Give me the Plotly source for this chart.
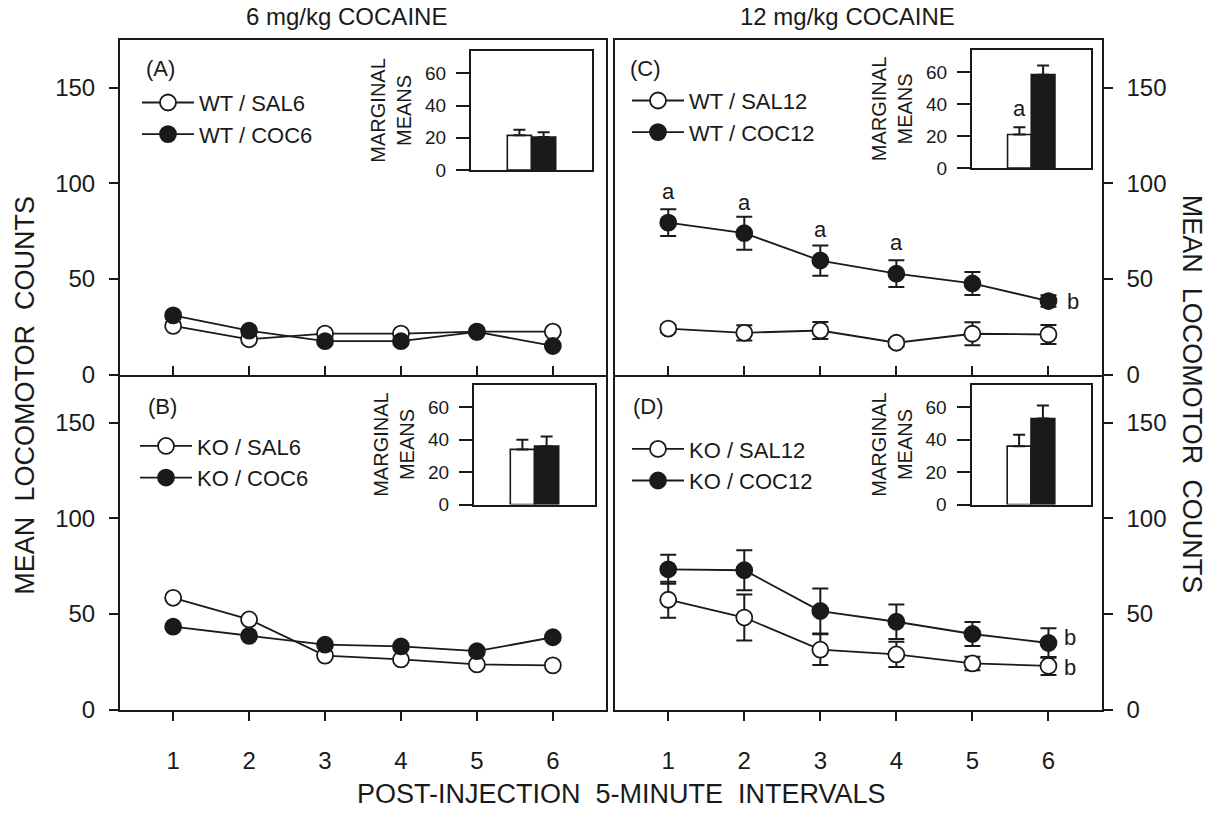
import plotly.graph_objects as go

W, H = 1216, 821
INK = "#1a1a1a"
FONT = "Liberation Sans, Arial, sans-serif"

# ---- data ---------------------------------------------------------------
intervals = [1, 2, 3, 4, 5, 6]
y_ticks = [0, 50, 100, 150]
inset_ticks = [0, 20, 40, 60]

# 6 mg/kg
wt_sal6 = [25.5, 18.5, 21.5, 21.5, 22.5, 22.5]
wt_coc6 = [31.0, 23.0, 17.5, 17.5, 22.4, 15.0]
ko_sal6 = [58.4, 47.1, 28.2, 26.2, 23.6, 23.1]
ko_coc6 = [43.3, 38.5, 33.9, 33.0, 30.5, 37.8]

# 12 mg/kg
wt_sal12 = [24.1, 21.9, 23.1, 16.7, 21.4, 21.0]
wt_sal12_err = [2.0, 4.0, 4.5, 2.0, 6.0, 5.0]
wt_coc12 = [79.5, 74.0, 59.7, 52.8, 47.7, 38.5]
wt_coc12_err = [7.0, 8.6, 7.9, 7.0, 6.0, 3.0]
ko_sal12 = [57.4, 48.1, 31.3, 28.8, 24.1, 22.8]
ko_sal12_err = [9.4, 12.0, 8.0, 6.6, 3.5, 4.7]
ko_coc12 = [73.3, 72.8, 51.5, 45.9, 39.5, 34.8]
ko_coc12_err = [7.6, 10.5, 11.8, 9.0, 6.3, 7.7]

# marginal means: [saline, cocaine]
marg_wt6, marg_wt6_err = [21.5, 20.5], [3.5, 3.0]
marg_ko6, marg_ko6_err = [34.0, 36.0], [6.0, 6.0]
marg_wt12, marg_wt12_err = [21.0, 58.5], [4.5, 5.7]
marg_ko12, marg_ko12_err = [36.0, 53.0], [7.0, 8.0]
bar_pos = [0.4, 0.6]

# ---- geometry helpers (pixels -> paper fractions) -------------------------
def px_x(a, b):
    return [a / W, b / W]


def px_y(top, bottom):
    return [1 - bottom / H, 1 - top / H]


fig = go.Figure()


def series(x_id, y_id, vals, filled, name, legend, err=None):
    tr = dict(
        x=intervals, y=vals, name=name, mode="lines+markers",
        xaxis=x_id, yaxis=y_id, legend=legend,
        line=dict(color=INK, width=1.8),
        marker=dict(size=16, color=INK if filled else "white",
                    line=dict(color=INK, width=1.8)),
    )
    if err is not None:
        tr["error_y"] = dict(type="data", array=err, color=INK,
                             thickness=2, width=8)
    fig.add_trace(go.Scatter(**tr))


def bars(x_id, y_id, vals, err):
    fig.add_trace(go.Bar(
        x=bar_pos, y=vals, width=0.2, xaxis=x_id, yaxis=y_id,
        showlegend=False,
        marker=dict(color=["white", INK], line=dict(color=INK, width=1.6)),
        error_y=dict(type="data", symmetric=False, array=err,
                     arrayminus=[0, 0], color=INK, thickness=2, width=6),
    ))


# panel A
series("x", "y", wt_sal6, False, "WT / SAL6", "legend")
series("x", "y", wt_coc6, True, "WT / COC6", "legend")
# panel B
series("x2", "y2", ko_sal6, False, "KO / SAL6", "legend2")
series("x2", "y2", ko_coc6, True, "KO / COC6", "legend2")
# panel C
series("x3", "y3", wt_sal12, False, "WT / SAL12", "legend3", wt_sal12_err)
series("x3", "y3", wt_coc12, True, "WT / COC12", "legend3", wt_coc12_err)
# panel D
series("x4", "y4", ko_sal12, False, "KO / SAL12", "legend4", ko_sal12_err)
series("x4", "y4", ko_coc12, True, "KO / COC12", "legend4", ko_coc12_err)

# insets
bars("x5", "y5", marg_wt6, marg_wt6_err)
bars("x6", "y6", marg_ko6, marg_ko6_err)
bars("x7", "y7", marg_wt12, marg_wt12_err)
bars("x8", "y8", marg_ko12, marg_ko12_err)

# ---- axes ---------------------------------------------------------------
left_x = px_x(120, 606)
right_x = px_x(615, 1101.7)
top_y = px_y(40.7, 380.7)
bot_y = px_y(380.7, 721)

tick_font = dict(family=FONT, size=24, color=INK)


def main_x(dom, anchor, labels):
    return dict(
        domain=dom, anchor=anchor, range=[0.3, 6.7], tickvals=intervals,
        showline=True, mirror=not labels, linewidth=2, linecolor=INK,
        ticks="outside" if labels else "inside", ticklen=9, tickwidth=2,
        tickcolor=INK, showticklabels=labels, tickfont=tick_font,
        ticklabelstandoff=20, showgrid=False, zeroline=False,
    )


def main_y(dom, anchor, side):
    return dict(
        domain=dom, anchor=anchor, side=side, range=[0, 175],
        tickvals=y_ticks, showline=True, mirror=True, linewidth=2,
        linecolor=INK, ticks="outside", ticklen=9, tickwidth=2,
        tickcolor=INK, tickfont=tick_font, ticklabelstandoff=9,
        showgrid=False, zeroline=False,
    )


def inset_x(dom, anchor):
    return dict(
        domain=dom, anchor=anchor, range=[0, 1], showline=True, mirror=True,
        linewidth=2, linecolor=INK, showticklabels=False, ticks="",
        showgrid=False, zeroline=False,
    )


def inset_y(dom, anchor):
    return dict(
        domain=dom, anchor=anchor, range=[0, 74], tickvals=inset_ticks,
        showline=True, mirror=True, linewidth=2, linecolor=INK,
        ticks="outside", ticklen=13, tickwidth=2, tickcolor=INK,
        tickfont=dict(family=FONT, size=19, color=INK), ticklabelstandoff=6,
        title=dict(text="MARGINAL<br>MEANS", standoff=8,
                   font=dict(family=FONT, size=20, color=INK)),
        showgrid=False, zeroline=False,
    )


layout = dict(
    width=W, height=H, margin=dict(l=0, r=0, t=0, b=0),
    paper_bgcolor="white", plot_bgcolor="rgba(0,0,0,0)",
    font=dict(family=FONT, color=INK),
    xaxis=main_x(left_x, "y", False), yaxis=main_y(top_y, "x", "left"),
    xaxis2=main_x(left_x, "y2", True), yaxis2=main_y(bot_y, "x2", "left"),
    xaxis3=main_x(right_x, "y3", False), yaxis3=main_y(top_y, "x3", "right"),
    xaxis4=main_x(right_x, "y4", True), yaxis4=main_y(bot_y, "x4", "right"),
    xaxis5=inset_x(px_x(471, 592), "y5"), yaxis5=inset_y(px_y(51.7, 172.7), "x5"),
    xaxis6=inset_x(px_x(474, 595), "y6"), yaxis6=inset_y(px_y(390.7, 512.7), "x6"),
    xaxis7=inset_x(px_x(972, 1090.5), "y7"), yaxis7=inset_y(px_y(50.7, 170.7), "x7"),
    xaxis8=inset_x(px_x(971.5, 1090.5), "y8"), yaxis8=inset_y(px_y(390.7, 512.7), "x8"),
    showlegend=True,
)

legend_font = dict(family=FONT, size=22, color=INK)


def legend_at(x_px, y_px):
    return dict(x=x_px / W, y=1 - y_px / H, xanchor="left", yanchor="top",
                bgcolor="rgba(0,0,0,0)", font=legend_font, itemwidth=52,
                tracegroupgap=0, itemclick=False)


layout["legend"] = legend_at(137, 83)
layout["legend2"] = legend_at(135, 432)
layout["legend3"] = legend_at(627, 81)
layout["legend4"] = legend_at(627, 435)
fig.update_layout(**layout)

# ---- text ---------------------------------------------------------------
def label(text, x, y, size=22, **kw):
    fig.add_annotation(text=text, x=x / W, y=1 - y / H, xref="paper",
                       yref="paper", showarrow=False, xanchor="center",
                       yanchor="middle",
                       font=dict(family=FONT, size=size, color=INK), **kw)


label("6 mg/kg COCAINE", 346, 17, size=24)
label("12 mg/kg COCAINE", 848, 17, size=24)
label("POST-INJECTION\u00a0\u00a05-MINUTE\u00a0\u00a0INTERVALS", 621, 807, size=27)
label("MEAN\u00a0\u00a0LOCOMOTOR\u00a0\u00a0COUNTS", 25, 402, size=27, textangle=-90)
label("MEAN\u00a0\u00a0LOCOMOTOR\u00a0\u00a0COUNTS", 1192, 400, size=27, textangle=90)
label("(A)", 160, 70)
label("(B)", 162, 413)
label("(C)", 645, 70)
label("(D)", 648, 413)


def sig(text, xref, yref, x, y, xs=0, ys=0):
    fig.add_annotation(text=text, x=x, y=y, xref=xref, yref=yref,
                       showarrow=False, xshift=xs, yshift=ys,
                       font=dict(family=FONT, size=22, color=INK))


for i in range(4):
    sig("a", "x3", "y3", intervals[i], wt_coc12[i], ys=31)
sig("b", "x3", "y3", intervals[5], wt_coc12[5], xs=25)
sig("b", "x4", "y4", intervals[5], ko_coc12[5], xs=22, ys=5)
sig("b", "x4", "y4", intervals[5], ko_sal12[5], xs=22, ys=-2)
sig("a", "x7", "y7", bar_pos[0], marg_wt12[0] + marg_wt12_err[0], ys=19)

fig.write_html("out.html")
